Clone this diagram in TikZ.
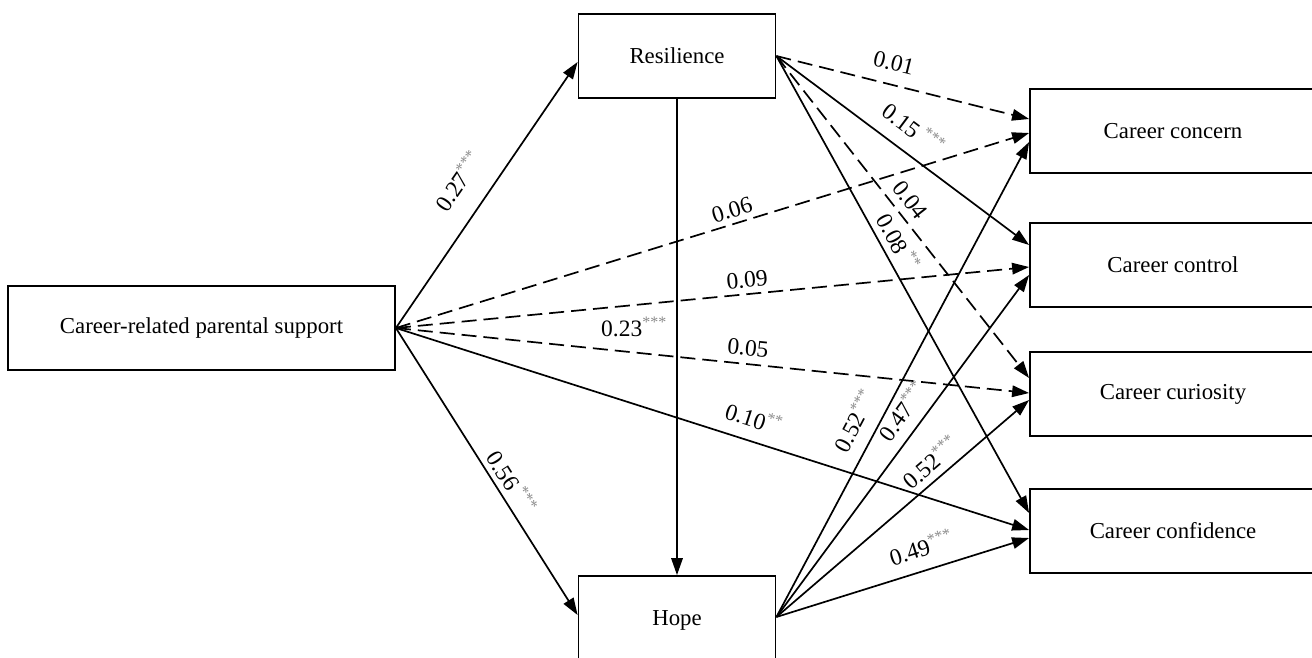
\documentclass[tikz,border=0pt]{standalone}
\usepackage{fontspec}
\setmainfont{Liberation Serif}
\usetikzlibrary{arrows.meta,calc}
\definecolor{stargray}{HTML}{8A8A8A}
\newcommand\sig[1]{\textsuperscript{\textcolor{stargray}{\fontsize{16}{16}\selectfont #1}}}
\begin{document}
\begin{tikzpicture}[x=1pt,y=-1pt,
  box/.style={draw, line width=1.8pt, inner sep=0pt, minimum height=84pt, font=\fontsize{22.8}{26}\selectfont},
  conn/.style={line width=1.7pt, -{Triangle[length=17pt,width=11.5pt]}},
  dashconn/.style={conn, dash pattern=on 15pt off 7pt},
  lab/.style={font=\fontsize{23.5}{25}\selectfont, inner sep=0pt}]
\useasboundingbox (0,0) rectangle (1312,657);
\clip (0,0) rectangle (1312,657);
% nodes
\node[box, minimum width=387pt] (par) at (201.5,328) {Career-related parental support};
\node[box, minimum width=197pt] (res) at (677,56) {Resilience};
\node[box, minimum width=197pt, minimum height=88pt] (hope) at (677,620) {Hope};
\node[box, minimum width=286pt] (cc) at (1173,131) {Career concern};
\node[box, minimum width=286pt] (ct) at (1173,265) {Career control};
\node[box, minimum width=286pt] (cu) at (1173,394) {Career curiosity};
\node[box, minimum width=286pt] (cf) at (1173,531) {Career confidence};
% parental support paths
\draw[conn] (par.east) -- ($(res.west)+(0,6)$);
\draw[conn] (par.east) -- ($(hope.west)+(0,-5)$);
\draw[dashconn] (par.east) -- ($(cc.west)+(0,2)$);
\draw[dashconn] (par.east) -- ($(ct.west)+(0,2)$);
\draw[dashconn] (par.east) -- ($(cu.west)+(0,-1)$);
\draw[conn] (par.east) -- ($(cf.west)+(0,-1)$);
% resilience paths
\draw[conn] (res.south) -- (hope.north);
\draw[dashconn] (res.east) -- ($(cc.west)+(0,-12)$);
\draw[conn] (res.east) -- ($(ct.west)+(0,-20)$);
\draw[dashconn] (res.east) -- ($(cu.west)+(0,-16)$);
\draw[conn] (res.east) -- ($(cf.west)+(0,-18)$);
% hope paths
\draw[conn] ($(hope.east)+(0,-3)$) -- ($(cc.west)+(0,11)$);
\draw[conn] ($(hope.east)+(0,-3)$) -- ($(ct.west)+(0,10)$);
\draw[conn] ($(hope.east)+(0,-3)$) -- ($(cu.west)+(0,6)$);
\draw[conn] ($(hope.east)+(0,-3)$) -- ($(cf.west)+(0,7)$);
% labels
\node[lab, rotate=55.4] (l1) at (458,181) {0.27\sig{***}};
\node[lab, rotate=-57.6] (l2) at (512,482) {0.56\,\sig{***}};
\node[lab, rotate=17.1] (l3) at (732,210) {0.06};
\node[lab, rotate=5.4] (l4) at (747,280) {0.09};
\node[lab] (l5) at (634,327) {0.23\sig{***}};
\node[lab, rotate=-6] (l6) at (748,348) {0.05};
\node[lab, rotate=-17.8] (l7) at (754,418) {0.10\sig{**}};
\node[lab, rotate=-13.9] (l8) at (894,63) {0.01};
\node[lab, rotate=-36.9] (l9) at (914,128) {0.15\,\sig{***}};
\node[lab, rotate=-52] (l10) at (910,200) {0.04};
\node[lab, rotate=-61.5] (l11) at (899,242) {0.08\,\sig{**}};
\node[lab, rotate=62.2] (l12) at (854,421) {0.52\sig{***}};
\node[lab, rotate=53.8] (l13) at (902,411) {0.47\sig{***}};
\node[lab, rotate=40.8] (l14) at (930,462) {0.52\sig{***}};
\node[lab, rotate=17.5] (l15) at (921,547) {0.49\sig{***}};
\end{tikzpicture}
\end{document}
